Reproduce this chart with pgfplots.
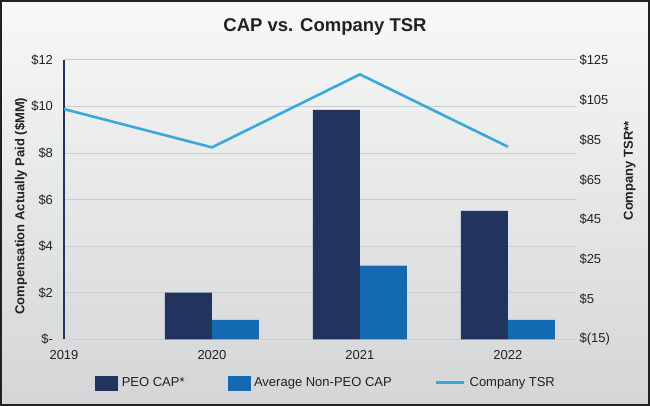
\documentclass[border=0pt]{standalone}
\usepackage{fontspec}
\setmainfont{Liberation Sans}
\usepackage{pgfplots}
\pgfplotsset{compat=1.18}

\definecolor{peo}{HTML}{22345E}
\definecolor{nonpeo}{HTML}{146AB2}
\definecolor{tsr}{HTML}{3AA8DC}
\definecolor{gridgray}{HTML}{CDCECF}
\definecolor{bgtop}{HTML}{F8F8F8}
\definecolor{bgbot}{HTML}{D3D5D6}
\definecolor{txt}{HTML}{222222}

\pgfplotsset{
  common/.style={
    at={(64pt,66.7pt)}, anchor=south west,
    scale only axis, width=512pt, height=279.3pt,
    xmin=0, xmax=3.46,
    major tick length=0pt,
    every tick label/.append style={font=\fontsize{13}{15}\selectfont, text=txt},
    every axis label/.append style={font=\fontsize{13}{15}\selectfont\bfseries, text=txt},
  }
}

\begin{document}
\begin{tikzpicture}[x=1pt,y=1pt]
\shade[top color=bgtop, bottom color=bgbot] (0,0) rectangle (650,406);
\draw[line width=2pt, color=txt] (1,1) rectangle (649,405);
\node[font=\fontsize{18.5}{22}\selectfont\bfseries, text=txt] at (325,379) {CAP vs. Company TSR};

% left axis: compensation bars
\begin{axis}[common,
  ymin=0, ymax=12,
  axis lines*=left,
  x axis line style={draw=none},
  y axis line style={draw=peo, line width=1.2pt},
  xtick={0,1,2,3}, xticklabels={2019,2020,2021,2022},
  xticklabel style={yshift=-8pt},
  ytick={0,2,4,6,8,10,12},
  yticklabels={\$-,\$2,\$4,\$6,\$8,\$10,\$12},
  yticklabel style={xshift=-7.5pt},
  ymajorgrids, grid style={gridgray, line width=1pt},
  ylabel={Compensation Actually Paid (\$MM)},
  ylabel style={at={(axis description cs:-0.084,0.477)}, anchor=center, rotate=0},
]
\addplot[ybar, bar width=47pt, bar shift=-23.5pt, fill=peo, draw=none]
  coordinates {(1,2.00) (2,9.86) (3,5.52)};
\addplot[ybar, bar width=47pt, bar shift=23.5pt, fill=nonpeo, draw=none]
  coordinates {(1,0.83) (2,3.16) (3,0.83)};
\end{axis}

% right axis: TSR line
\begin{axis}[common,
  ymin=-15, ymax=125,
  axis y line*=right, axis x line=none,
  y axis line style={draw=none},
  ytick={-15,5,25,45,65,85,105,125},
  yticklabels={\$(15),\$5,\$25,\$45,\$65,\$85,\$105,\$125},
  yticklabel style={anchor=west},
  ylabel={Company TSR**},
  ylabel style={at={(axis description cs:1.105,0.603)}, anchor=center, rotate=0},
  legend columns=3,
  legend style={at={(0.512,-0.156)}, anchor=center, draw=none, fill=none,
    font=\fontsize{13}{15}\selectfont, text=txt,
    /tikz/every even column/.append style={column sep=41pt}},
]
\addlegendimage{legend image code/.code={\fill[peo] (0pt,-7pt) rectangle (22pt,7pt); \path (24pt,0pt);}}
\addlegendentry{PEO CAP*}
\addlegendimage{legend image code/.code={\fill[nonpeo] (0pt,-7pt) rectangle (22pt,7pt); \path (24pt,0pt);}}
\addlegendentry{Average Non-PEO CAP}
\addplot[tsr, line width=2.6pt,
  legend image code/.code={\draw[tsr, line width=3pt] (0pt,0pt) -- (28pt,0pt); \path (30pt,0pt);}]
  coordinates {(0,100.4) (1,81.2) (2,117.8) (3,81.5)};
\addlegendentry{Company TSR}
\end{axis}
\end{tikzpicture}
\end{document}
